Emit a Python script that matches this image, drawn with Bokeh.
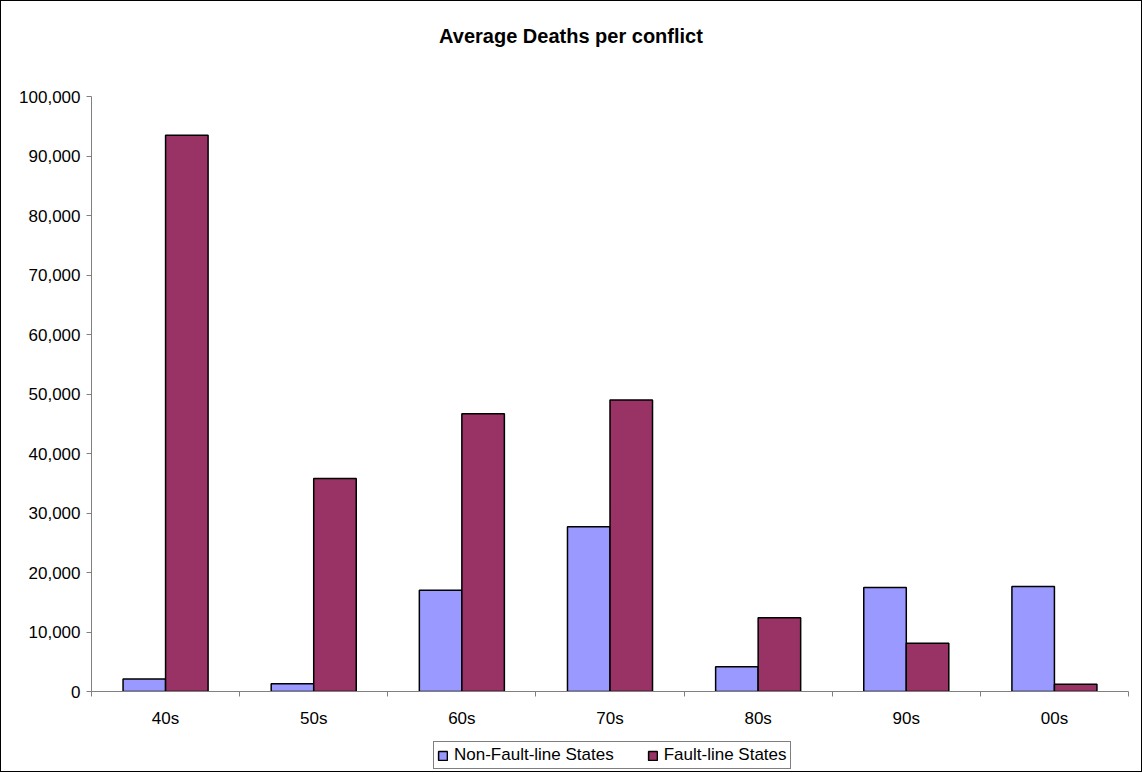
from bokeh.plotting import figure
from bokeh.models import (ColumnDataSource, Range1d, FixedTicker, NumeralTickFormatter,
                          Legend, LegendItem, Div)
from bokeh.layouts import column
from bokeh.transform import dodge
from bokeh.embed import file_html
from bokeh.resources import INLINE

# Average deaths per conflict by decade
decades = ["40s", "50s", "60s", "70s", "80s", "90s", "00s"]
non_fault_line = [2100, 1300, 17000, 27700, 4150, 17500, 17650]
fault_line = [93500, 35800, 46700, 49000, 12400, 8100, 1200]
y_ticks = list(range(0, 100001, 10000))
series_names = ["Non-Fault-line States", "Fault-line States"]
series_colors = ["#9999FF", "#993366"]

centers = [i + 0.5 for i in range(len(decades))]
src = ColumnDataSource(dict(x=centers, non=non_fault_line, fault=fault_line))

FONT = "Liberation Sans"
BAR_W = 0.287
W = 1140

title = Div(text="Average Deaths per conflict", width=W, height=60, margin=0,
            styles={"font-family": FONT, "font-weight": "bold", "font-size": "20px",
                    "text-align": "center", "line-height": "24px", "padding-top": "23px",
                    "box-sizing": "border-box", "color": "black"})

p = figure(width=W, height=670, output_backend="svg", toolbar_location=None,
           x_range=Range1d(0, len(decades)), y_range=Range1d(0, 100000),
           min_border_left=90, min_border_right=13, min_border_top=35, min_border_bottom=40)
p.outline_line_color = None
p.background_fill_color = "white"
p.border_fill_color = "white"
p.xgrid.visible = False
p.ygrid.visible = False

p.vbar(x=dodge("x", -BAR_W / 2, range=p.x_range), top="non", width=BAR_W, bottom=0,
       source=src, fill_color=series_colors[0], line_color="black", line_width=1.5)
p.vbar(x=dodge("x", BAR_W / 2, range=p.x_range), top="fault", width=BAR_W, bottom=0,
       source=src, fill_color=series_colors[1], line_color="black", line_width=1.5)

# x axis: labels at category centres, tick marks at category boundaries
xa = p.xaxis[0]
xa.ticker = FixedTicker(ticks=centers, minor_ticks=list(range(len(decades) + 1)))
xa.major_label_overrides = {c: d for c, d in zip(centers, decades)}
xa.major_tick_out = 0
xa.major_tick_in = 0
xa.minor_tick_out = 5
xa.minor_tick_in = 0
xa.minor_tick_line_color = "#808080"
xa.axis_line_color = "#808080"
xa.major_label_text_font = FONT
xa.major_label_text_font_size = "17px"
xa.major_label_text_color = "black"
xa.major_label_standoff = 12

ya = p.yaxis[0]
ya.ticker = FixedTicker(ticks=y_ticks, minor_ticks=[])
ya.formatter = NumeralTickFormatter(format="0,0")
ya.major_tick_out = 5
ya.major_tick_in = 0
ya.major_tick_line_color = "#808080"
ya.axis_line_color = "#808080"
ya.major_label_text_font = FONT
ya.major_label_text_font_size = "17px"
ya.major_label_text_color = "black"
ya.major_label_standoff = 6

# legend strip underneath the chart; its swatch renderers stay hidden
lg = figure(width=W, height=40, output_backend="svg", toolbar_location=None,
            x_axis_type=None, y_axis_type=None, min_border=0,
            x_range=Range1d(0, 1), y_range=Range1d(0, 1))
lg.outline_line_color = None
lg.xgrid.visible = False
lg.ygrid.visible = False
swatches = [lg.vbar(x=centers, top=vals, width=BAR_W, fill_color=c, line_color="black",
                    line_width=1.5, visible=False)
            for c, vals in zip(series_colors, [non_fault_line, fault_line])]
legend = Legend(items=[LegendItem(label=n, renderers=[r]) for n, r in zip(series_names, swatches)],
                orientation="horizontal", location=(342, 2),
                label_text_font=FONT, label_text_font_size="17px", label_text_color="black",
                glyph_width=11, glyph_height=11, label_standoff=6, spacing=33,
                padding=3, margin=0, border_line_color="black", border_line_width=1,
                label_height=16)
lg.add_layout(legend)

layout = column(title, p, lg, spacing=0,
                styles={"border": "1px solid black", "background-color": "white"})

open("out.html", "w").write(file_html(layout, INLINE))
